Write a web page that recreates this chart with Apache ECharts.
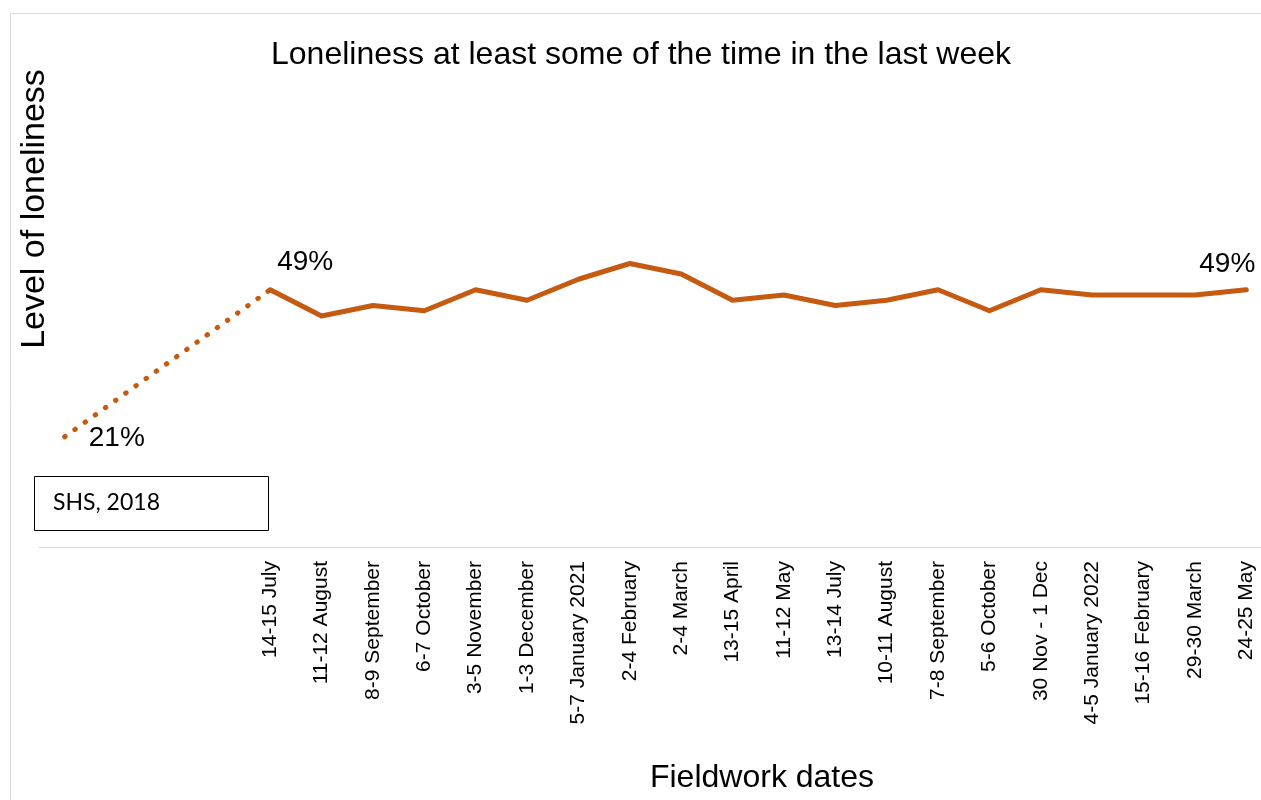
<!DOCTYPE html>
<html><head><meta charset="utf-8">
<script src="https://cdn.jsdelivr.net/npm/echarts@6/dist/echarts.min.js"></script>
<style>html,body{margin:0;padding:0;background:#fff;overflow:hidden}#c{width:1261px;height:800px}</style>
</head><body><div id="c"></div>
<script>
// Categories (first four slots hold the SHS 2018 baseline position)
const categories = ['', '', '', '', '14-15 July', '11-12 August', '8-9 September', '6-7 October',
  '3-5 November', '1-3 December', '5-7 January 2021', '2-4 February', '2-4 March', '13-15 April',
  '11-12 May', '13-14 July', '10-11 August', '7-8 September', '5-6 October', '30 Nov - 1 Dec',
  '4-5 January 2022', '15-16 February', '29-30 March', '24-25 May'];
// SHS 2018 baseline connecting to first survey wave (dotted)
const baselineValues = [21, null, null, null, 49];
// Survey waves (%)
const surveyValues = [null, null, null, null, 49, 44, 46, 45, 49, 47, 51, 54, 52, 47, 48, 46, 47, 49, 45, 49, 48, 48, 48, 49];
const labelledSurveyIdx = [4, 23];
const labelledBaselineIdx = [0];

const ORANGE = '#C55A11';
const FONT = '"Liberation Sans", Arial, sans-serif';

const labelStyle = (pos, offset) => ({ show: true, position: pos, offset: offset, formatter: '{c}%',
  fontSize: 28, color: '#000', fontFamily: FONT });

const baselineData = baselineValues.map((v, i) => {
  if (v === null) return '-';
  if (labelledBaselineIdx.includes(i)) return { value: v, label: labelStyle('right', [19, 2]) };
  return v;
});
const surveyData = surveyValues.map((v, i) => {
  if (v === null) return '-';
  if (i === labelledSurveyIdx[0]) return { value: v, label: labelStyle('top', [35, -8]) };
  if (i === labelledSurveyIdx[1]) return { value: v, label: labelStyle('top', [-19, -6]) };
  return v;
});

const chart = echarts.init(document.getElementById('c'));
chart.setOption({
  animation: false,
  backgroundColor: '#fff',
  grid: { left: 39, right: -11, top: 22, bottom: 253, containLabel: false, outerBoundsMode: 'none' },
  xAxis: {
    type: 'category',
    data: categories,
    boundaryGap: true,
    axisLine: { show: true, lineStyle: { color: '#d9d9d9', width: 1 } },
    axisTick: { show: false },
    axisLabel: { rotate: 90, interval: 0, margin: 14, fontSize: 21, color: '#000', fontFamily: FONT }
  },
  yAxis: {
    type: 'value', min: 0, max: 100, show: false,
    splitLine: { show: false }
  },
  series: [
    {
      type: 'line', data: baselineData, connectNulls: true, showSymbol: true, symbol: 'circle', symbolSize: 0.1,
      itemStyle: { color: ORANGE },
      lineStyle: { color: ORANGE, width: 5, type: [0.5, 12], cap: 'round' },
      z: 2
    },
    {
      type: 'line', data: surveyData, showSymbol: true, symbol: 'circle', symbolSize: 0.1,
      itemStyle: { color: ORANGE },
      lineStyle: { color: ORANGE, width: 5, cap: 'round', join: 'round' },
      z: 3
    }
  ],
  graphic: [
    { type: 'rect', silent: true, shape: { x: 10.5, y: 13.5, width: 1300, height: 900 },
      style: { fill: 'none', stroke: '#d9d9d9', lineWidth: 1 }, z: -1 },
    { type: 'text', x: 641, y: 55, style: { text: 'Loneliness at least some of the time in the last week',
      font: '32px ' + FONT, fill: '#000', textAlign: 'center', textVerticalAlign: 'middle' } },
    { type: 'text', x: 35, y: 209, rotation: Math.PI / 2, style: { text: 'Level of loneliness',
      font: '34px ' + FONT, fill: '#000', textAlign: 'center', textVerticalAlign: 'middle' } },
    { type: 'text', x: 762, y: 778, style: { text: 'Fieldwork dates',
      font: '32px ' + FONT, fill: '#000', textAlign: 'center', textVerticalAlign: 'middle' } },
    { type: 'rect', shape: { x: 34.5, y: 476.5, width: 234, height: 54 },
      style: { fill: '#fff', stroke: '#000', lineWidth: 1 } },
    { type: 'text', x: 53, y: 503, style: { text: 'SHS, 2018',
      font: '23px Lato, "Open Sans", sans-serif', fill: '#000', textAlign: 'left', textVerticalAlign: 'middle' } }
  ]
});
</script>
</body></html>
